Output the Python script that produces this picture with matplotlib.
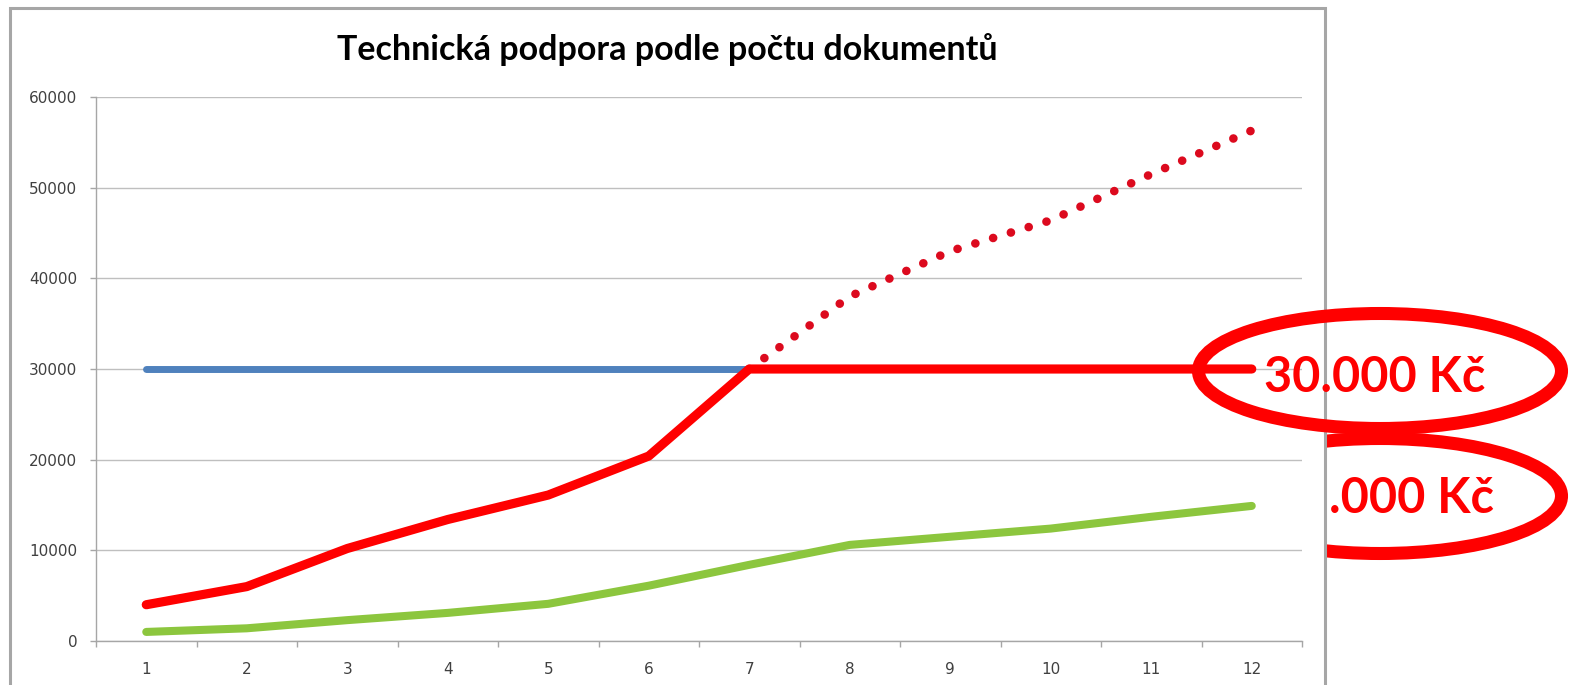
#-----------------------------------------------------------------
# Technicka podpora - line chart with annotations
#-----------------------------------------------------------------
import matplotlib
matplotlib.use('Agg')
import matplotlib.pyplot as plt
from matplotlib.patches import Rectangle, Ellipse
import numpy as np

W, H = 1570, 685

categories = [1, 2, 3, 4, 5, 6, 7, 8, 9, 10, 11, 12]
flat_fee = [30000] * 12
per_doc = [4000, 6000, 10200, 13400, 16100, 20400, 30000, 30000, 30000, 30000, 30000, 30000]
per_doc_uncapped = [None, None, None, None, None, None, 30000, 38000, 43000, 46400, 51500, 56300]
small_docs = [1000, 1400, 2300, 3100, 4100, 6100, 8400, 10600, 11500, 12400, 13700, 14900]
y_ticks = [0, 10000, 20000, 30000, 40000, 50000, 60000]

title = 'Technická podpora podle počtu dokumentů'
note1 = '30.000 Kč'
note2 = '.000 Kč'

def px(x, y):
    # pixel (from top-left) -> figure fraction
    return x / W, 1 - y / H

fig = plt.figure(figsize=(W / 100, H / 100), dpi=100)
fig.patch.set_facecolor('white')

# second ellipse + text sit behind the chart panel
e2 = Ellipse(px(1380, 496), 363 / W, 115 / H, transform=fig.transFigure,
             fill=False, edgecolor='#FF0000', lw=9.4, zorder=0.5)
fig.add_artist(e2)
fig.text(*px(1329, 513), note2, ha='left', va='baseline', fontsize=35,
         fontweight='bold', family='Lato', color='#FF0000', zorder=0.6)

# chart panel
x0, y0 = px(10, 700)
panel = Rectangle((x0, y0), 1315 / W, 692 / H, transform=fig.transFigure,
                  facecolor='white', edgecolor='#A6A6A6', lw=2.2, zorder=1)
fig.add_artist(panel)

ax = fig.add_axes([96 / W, 1 - 641 / H, 1206 / W, 544 / H])
ax.set_zorder(2)
ax.patch.set_alpha(0)

x = np.array(categories)
ax.plot(x, flat_fee, color='#4F81BD', lw=5, solid_capstyle='round', zorder=3)
ax.plot(x, small_docs, color='#8CC63E', lw=5.8, solid_capstyle='round', zorder=3)
up = np.array([np.nan if v is None else v for v in per_doc_uncapped], dtype=float)
ax.plot(x, up, color='#DC0A1E', lw=6.2, linestyle=(0, (0.01, 2.15)),
        dash_capstyle='round', zorder=4)
ax.plot(x, per_doc, color='#FF0000', lw=6.6, solid_capstyle='round',
        solid_joinstyle='round', zorder=5)

ax.set_xlim(0.5, 12.5)
ax.set_ylim(0, 60000)
ax.set_yticks(y_ticks)
ax.set_yticklabels([str(v) for v in y_ticks])
ax.set_xticks(x)
ax.set_xticklabels([str(c) for c in categories])
ax.set_xticks(np.arange(0.5, 13, 1), minor=True)
ax.grid(axis='y', color='#BFBFBF', lw=1)
ax.set_axisbelow(True)

for s in ['top', 'right']:
    ax.spines[s].set_visible(False)
for s in ['left', 'bottom']:
    ax.spines[s].set_color('#A6A6A6')
    ax.spines[s].set_linewidth(1)

ax.tick_params(axis='y', length=4.5, width=1, color='#A6A6A6', pad=9,
               labelsize=11, labelcolor='#404040')
ax.tick_params(axis='x', which='major', length=0, pad=15,
               labelsize=11, labelcolor='#404040')
ax.tick_params(axis='x', which='minor', length=4.5, width=1, color='#A6A6A6')

fig.text(*px(667.5, 50), title, ha='center', va='center', fontsize=24.5,
         fontweight='bold', family='Lato', color='black', zorder=3)

# annotation on top of the chart
e1 = Ellipse(px(1380, 371), 363 / W, 115 / H, transform=fig.transFigure,
             fill=False, edgecolor='#FF0000', lw=9.4, zorder=5)
fig.add_artist(e1)
fig.text(*px(1485, 392), note1, ha='right', va='baseline', fontsize=35,
         fontweight='bold', family='Lato', color='#FF0000', zorder=6)

fig.savefig('out.png', dpi=100)
